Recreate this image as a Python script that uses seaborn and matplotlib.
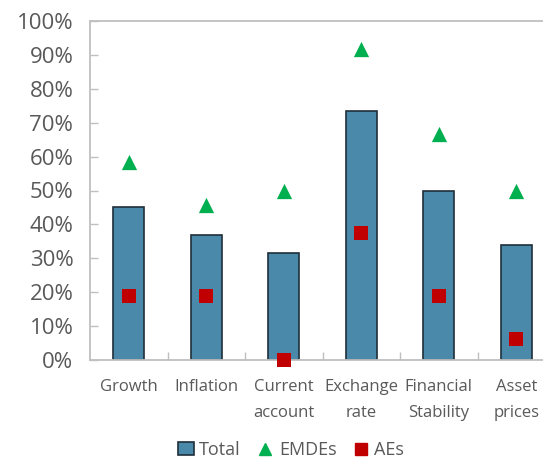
import matplotlib
matplotlib.use("Agg")
import matplotlib.pyplot as plt
import seaborn as sns
import pandas as pd
from matplotlib.patches import Patch
from matplotlib.lines import Line2D
from matplotlib.ticker import FixedLocator

categories = ["Growth", "Inflation", "Current\naccount", "Exchange\nrate", "Financial\nStability", "Asset\nprices"]
total = [45.0, 37.0, 31.5, 73.5, 50.0, 34.0]
emdes = [58.3, 45.8, 50.0, 91.7, 66.7, 50.0]
aes = [18.75, 18.75, 0.0, 37.5, 18.75, 6.25]

sns.set_theme(style="white")
plt.rcParams['font.family'] = ['Open Sans', 'DejaVu Sans']

df = pd.DataFrame({"cat": categories, "total": total, "emdes": emdes, "aes": aes})

fig = plt.figure(figsize=(5.43, 4.58), dpi=100)
ax = fig.add_axes([90/543, 1-360/458, 465/543, 339/458])

bar_color = "#4A89AA"
sns.barplot(data=df, x="cat", y="total", color=bar_color, width=0.4, saturation=1,
            edgecolor="#1f2f3a", linewidth=1.2, ax=ax, zorder=2)
sns.stripplot(data=df, x="cat", y="emdes", marker="^", color="#00B050", size=11,
              jitter=False, linewidth=0, ax=ax, zorder=3)
sns.stripplot(data=df, x="cat", y="aes", marker="s", color="#C00000", size=9.5,
              jitter=False, linewidth=0, ax=ax, zorder=4)
for c in ax.collections:
    c.set_clip_on(False)

ax.set_xlim(-0.5, 5.5)
ax.set_ylim(0, 100)
ax.set_yticks(range(0, 101, 10))
ax.set_yticklabels([f"{v}%" for v in range(0, 101, 10)])
ax.set_xlabel("")
ax.set_ylabel("")

spine_color = "#BFBFBF"
for s in ax.spines.values():
    s.set_color(spine_color)
    s.set_linewidth(1.3)
ax.spines["right"].set_visible(False)

ax.tick_params(axis="y", direction="in", length=6, color=spine_color, width=1, labelsize=16,
               labelcolor="#595959", pad=12, left=True)
ax.tick_params(axis="x", which="major", length=0, labelsize=12, labelcolor="#595959", pad=14)
ax.xaxis.set_minor_locator(FixedLocator([0.5, 1.5, 2.5, 3.5, 4.5]))
ax.tick_params(axis="x", which="minor", direction="in", length=6, color=spine_color, width=1, bottom=True)
for lab in ax.get_xticklabels():
    lab.set_linespacing(1.8)
    lab.set_verticalalignment("top")

handles = [
    Patch(facecolor=bar_color, edgecolor="#1f2f3a", linewidth=1.2, label="Total"),
    Line2D([], [], marker="^", color="#00B050", linestyle="none", markersize=8, label="EMDEs"),
    Line2D([], [], marker="s", color="#C00000", linestyle="none", markersize=8, label="AEs"),
]
fig.legend(handles=handles, loc="center", bbox_to_anchor=(291/543, 1-450/458), ncol=3,
           frameon=False, fontsize=13, handlelength=0.9, handletextpad=0.3, columnspacing=0.9,
           labelcolor="#595959")

fig.savefig("out.png", dpi=100)
